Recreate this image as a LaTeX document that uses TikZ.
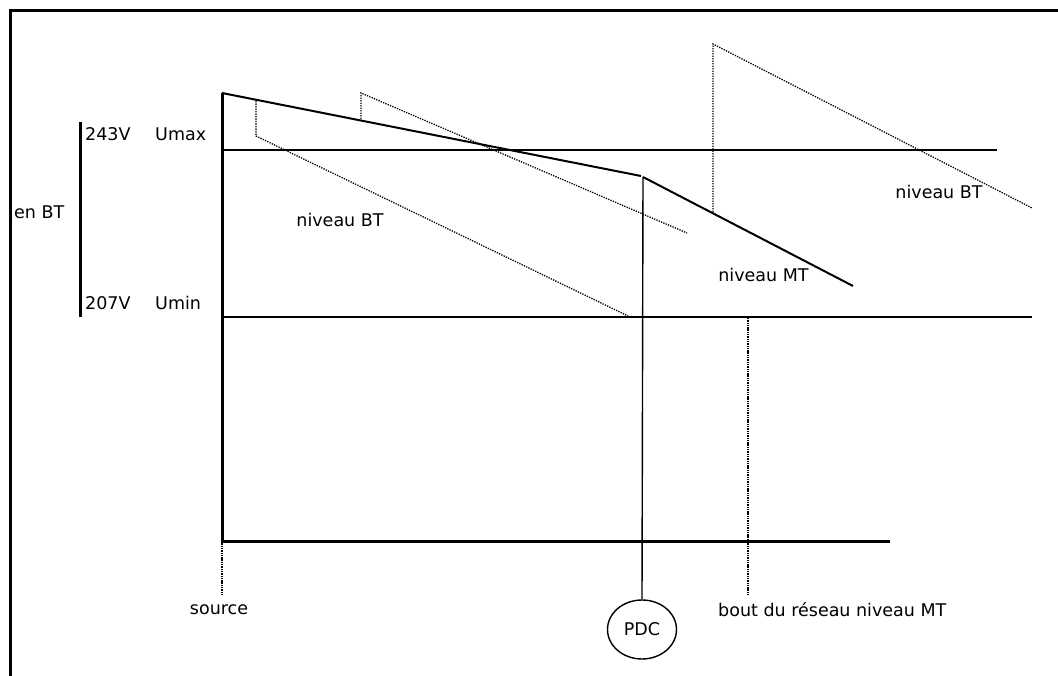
\documentclass[tikz,border=0pt]{standalone}
\usepackage{fontspec}
\setmainfont{DejaVu Sans}
\usetikzlibrary{shapes.geometric}
\begin{document}
\begin{tikzpicture}[x=1pt,y=-1pt,
  lbl/.style={inner sep=0pt,font=\fontsize{17.5}{20}\selectfont},
  thin line/.style={line width=1.4pt},
  thick line/.style={line width=3pt},
  curve line/.style={line width=2pt,line join=miter},
  dot line/.style={line width=1.3pt,dash pattern=on 1.3pt off 1.2pt},
  tick line/.style={line width=2.4pt,dash pattern=on 1.4pt off 0.9pt}]
\useasboundingbox (0,0) rectangle (1058,676);
\fill[white] (0,0) rectangle (1058,676);
% frame (cut at right and bottom)
\draw[line width=3pt] (10.5,680) -- (10.5,10.5) -- (1062,10.5);
% named points
\coordinate (top) at (222,93);
\coordinate (orig) at (222,541);
\coordinate (xend) at (890,541);
\coordinate (umaxL) at (222,150);
\coordinate (umaxR) at (997,150);
\coordinate (uminL) at (222,317);
\coordinate (uminR) at (1032,317);
\coordinate (pdcTop) at (643,177);
\coordinate (mtEnd) at (853,286);
\coordinate (bL) at (80,122);
\coordinate (bR) at (80,317);
% axes
\draw[thick line] (top) -- (orig) -- (xend);
\draw[thick line] (bL) -- (bR);
% limit lines
\draw[thin line] (umaxL) -- (umaxR);
\draw[thin line] (uminL) -- (uminR);
% solid voltage profile
\draw[curve line] (top) -- (641,176);
\draw[curve line] (pdcTop) -- (mtEnd);
% dotted BT profiles
\coordinate (d1a) at (256,101);
\coordinate (d1b) at (256,136);
\coordinate (d1c) at (628,316);
\draw[dot line] (d1a) -- (d1b) -- (d1c);
\coordinate (d2a) at (361,119);
\coordinate (d2b) at (361,93);
\coordinate (d2c) at (687,233);
\draw[dot line] (d2a) -- (d2b) -- (d2c);
\coordinate (d3a) at (713,212);
\coordinate (d3b) at (713,44);
\coordinate (d3c) at (1032,208);
\draw[dot line] (d3a) -- (d3b) -- (d3c);
% PDC
\node[draw,ellipse,line width=1.4pt,minimum width=69pt,minimum height=59pt,inner sep=0pt,font=\fontsize{17.5}{20}\selectfont] (pdc) at (642,629.5) {PDC};
\draw[thin line] (pdcTop) -- (pdc.north);
% source / bout ticks
\coordinate (srcEnd) at (222,596);
\coordinate (boutTop) at (748,318);
\coordinate (boutEnd) at (748,596);
\draw[tick line] (orig) -- (srcEnd);
\draw[tick line] (boutTop) -- (boutEnd);
% labels
\node[lbl,anchor=west] (v243) at (85,134) {243V};
\node[lbl,anchor=west] (umax) at (155,134) {Umax};
\node[lbl,anchor=west] (enbt) at (14,212) {en BT};
\node[lbl,anchor=west] (v207) at (85,303) {207V};
\node[lbl,anchor=west] (umin) at (155,303) {Umin};
\node[lbl] (bt1) at (340,220) {niveau BT};
\node[lbl] (bt2) at (939,192) {niveau BT};
\node[lbl] (mt) at (763.5,275) {niveau MT};
\node[lbl] (src) at (219,610) {source};
\node[lbl,anchor=west] (bout) at (718,610) {bout du réseau niveau MT};
\end{tikzpicture}
\end{document}
